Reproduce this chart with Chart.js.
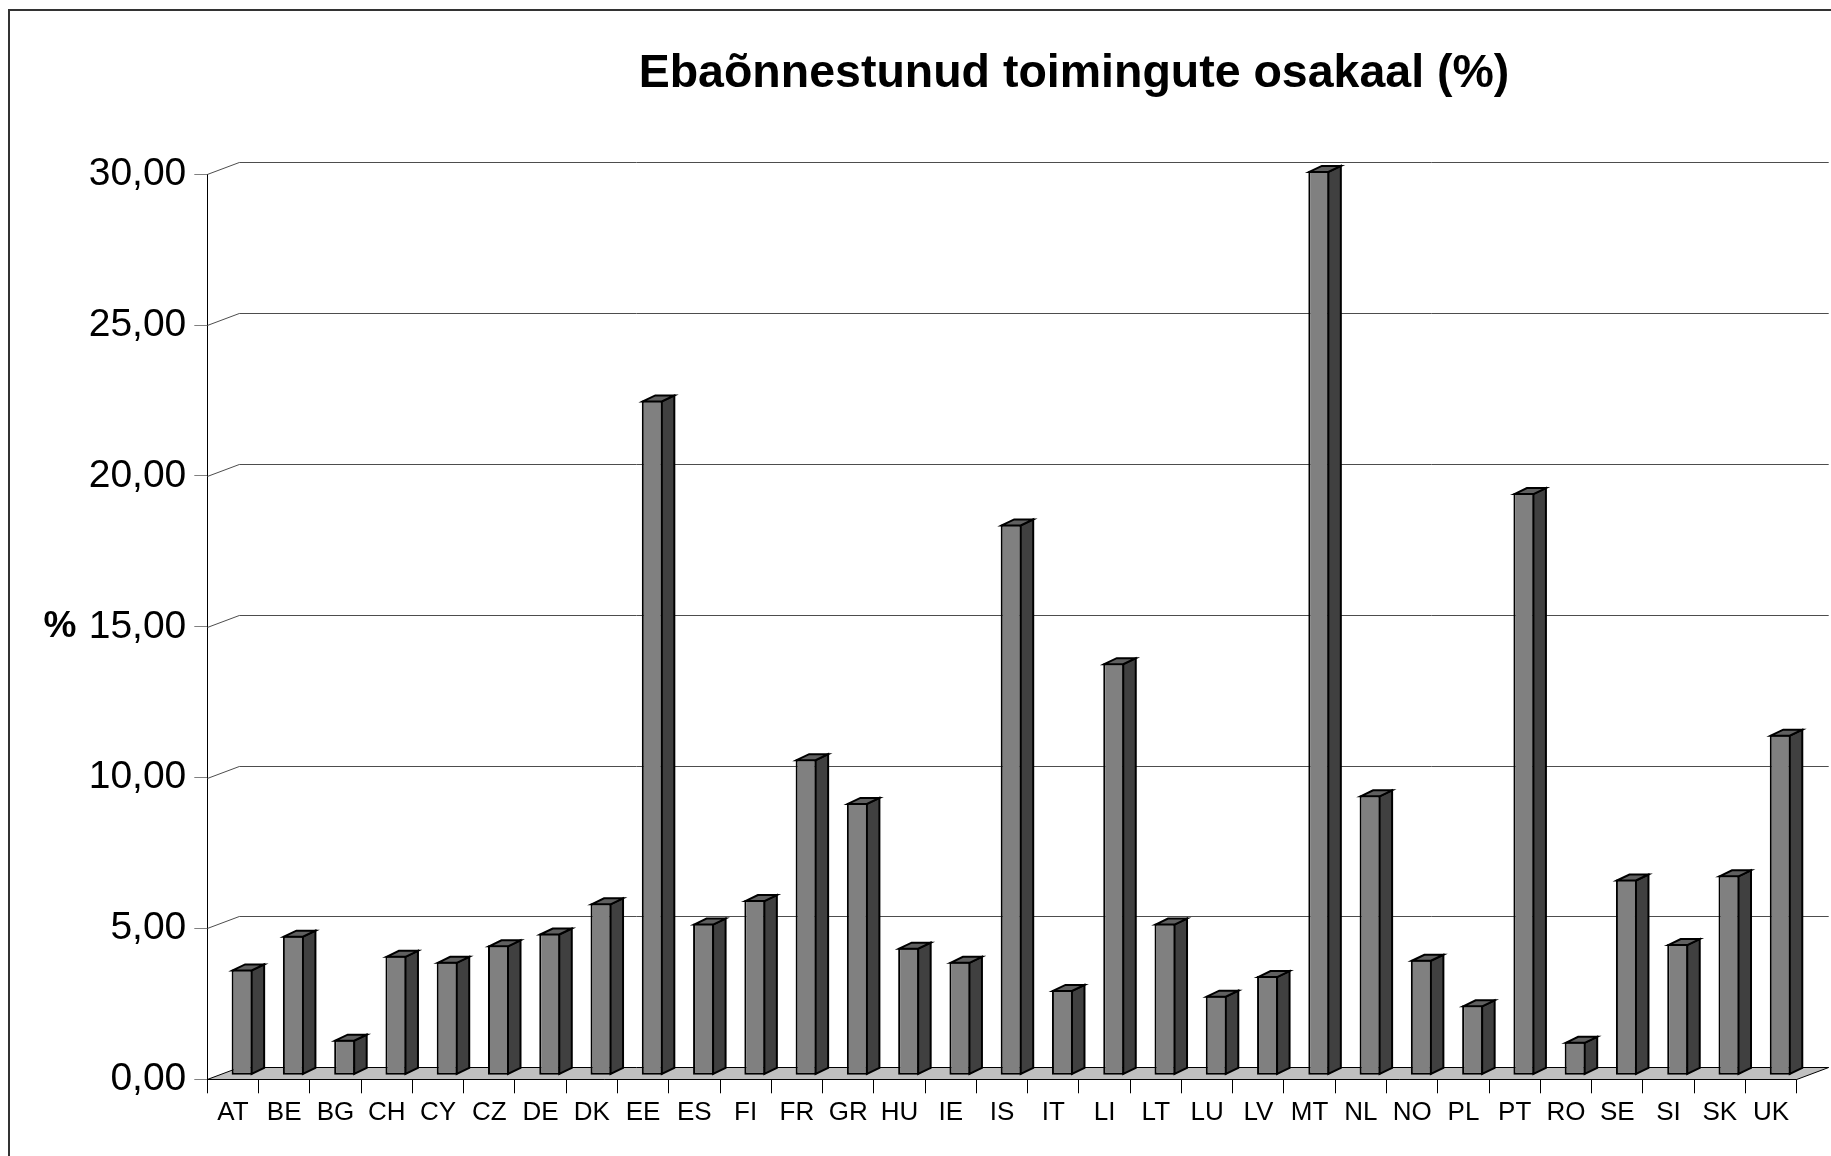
<!DOCTYPE html>
<html>
<head>
<meta charset="utf-8">
<script src="https://cdn.jsdelivr.net/npm/chart.js@4.4.1/dist/chart.umd.min.js"></script>
<style>
  html, body { margin: 0; padding: 0; background: #ffffff; }
  #wrap { width: 1831px; height: 1156px; position: relative; }
</style>
</head>
<body>
<div id="wrap"><canvas id="c" width="1831" height="1156"></canvas></div>
<script>
// ---- data ----
const chartTitle = 'Ebaõnnestunud toimingute osakaal (%)';
const axisTitle = '%';
const categories = ['AT','BE','BG','CH','CY','CZ','DE','DK','EE','ES','FI','FR','GR','HU','IE','IS','IT','LI','LT','LU','LV','MT','NL','NO','PL','PT','RO','SE','SI','SK','UK'];
const values = [3.51, 4.63, 1.18, 3.96, 3.76, 4.31, 4.70, 5.70, 22.37, 5.03, 5.81, 10.48, 9.03, 4.23, 3.76, 18.26, 2.83, 13.66, 5.03, 2.64, 3.29, 29.98, 9.28, 3.83, 2.32, 19.30, 1.11, 6.49, 4.35, 6.63, 11.29];
const yMin = 0;
const yMax = 30;
const yStep = 5;

// ---- styling / 3D geometry ----
const FONT = "'Liberation Sans', Arial, Helvetica, sans-serif";
const geo = { floorDx: 32, floorDy: 12, barDx: 12.5, barDy: 6, shiftX: 9.2, shiftY: -4 };
const colors = { front: '#808080', side: '#404040', top: '#606060', floor: '#c0c0c0', grid: '#4d4d4d' };

const threeD = {
  id: 'threeD',
  beforeDraw(chart) {
    const ctx = chart.ctx;
    ctx.save();
    ctx.fillStyle = '#ffffff';
    ctx.fillRect(0, 0, chart.width, chart.height);
    ctx.strokeStyle = '#333333';
    ctx.lineWidth = 2;
    ctx.strokeRect(9, 10, chart.width + 40, chart.height + 40);
    // title
    ctx.fillStyle = '#000000';
    ctx.font = 'bold 46.5px ' + FONT;
    ctx.textAlign = 'center';
    ctx.textBaseline = 'alphabetic';
    ctx.fillText(chartTitle, 1074, 87);
    // axis title
    const y = chart.scales.y;
    const midY = y.getPixelForValue((yMin + yMax) / 2);
    ctx.font = 'bold 37px ' + FONT;
    ctx.textBaseline = 'middle';
    ctx.fillText(axisTitle, 60, midY);
    ctx.restore();
  },
  beforeDatasetsDraw(chart) {
    const { ctx, chartArea: a, scales: { y } } = chart;
    const fdx = geo.floorDx, fdy = geo.floorDy;
    ctx.save();
    // gridlines on side & back wall
    ctx.strokeStyle = colors.grid;
    ctx.lineWidth = 1;
    y.ticks.forEach(t => {
      if (t.value === yMin) return;
      const py = Math.round(y.getPixelForValue(t.value)) + 0.5;
      ctx.beginPath();
      ctx.moveTo(a.left, py);
      ctx.lineTo(a.left + fdx, py - fdy);
      ctx.lineTo(a.right + fdx, py - fdy);
      ctx.stroke();
    });
    // floor
    const yb = Math.round(y.getPixelForValue(yMin)) + 0.5;
    ctx.fillStyle = colors.floor;
    ctx.strokeStyle = '#000000';
    ctx.beginPath();
    ctx.moveTo(a.left, yb);
    ctx.lineTo(a.right, yb);
    ctx.lineTo(a.right + fdx, yb - fdy);
    ctx.lineTo(a.left + fdx, yb - fdy);
    ctx.closePath();
    ctx.fill();
    ctx.stroke();
    ctx.restore();
    ctx.save();
    ctx.translate(geo.shiftX, geo.shiftY);
  },
  afterDatasetsDraw(chart) {
    const ctx = chart.ctx;
    const meta = chart.getDatasetMeta(0);
    const dx = geo.barDx, dy = geo.barDy;
    ctx.lineWidth = 2;
    ctx.lineJoin = 'miter';
    ctx.strokeStyle = '#000000';
    meta.data.forEach(bar => {
      const p = bar.getProps(['x', 'y', 'base', 'width'], true);
      const l = p.x - p.width / 2 + 1, r = p.x + p.width / 2 - 1;
      const top = p.y + 1, base = p.base - 1;
      // side face
      ctx.fillStyle = colors.side;
      ctx.beginPath();
      ctx.moveTo(r, top);
      ctx.lineTo(r + dx, top - dy);
      ctx.lineTo(r + dx, base - dy);
      ctx.lineTo(r, base);
      ctx.closePath();
      ctx.fill();
      ctx.stroke();
      // top face
      ctx.fillStyle = colors.top;
      ctx.beginPath();
      ctx.moveTo(l, top);
      ctx.lineTo(l + dx, top - dy);
      ctx.lineTo(r + dx, top - dy);
      ctx.lineTo(r, top);
      ctx.closePath();
      ctx.fill();
      ctx.stroke();
    });
    ctx.restore();
  }
};

new Chart(document.getElementById('c'), {
  type: 'bar',
  data: {
    labels: categories,
    datasets: [{
      data: values,
      backgroundColor: colors.front,
      borderColor: '#000000',
      borderWidth: 2,
      borderSkipped: false,
      barPercentage: 0.41,
      categoryPercentage: 1.0
    }]
  },
  options: {
    responsive: false,
    devicePixelRatio: 1,
    animation: false,
    layout: { padding: { left: 0, top: 174.3, right: 34.3, bottom: 0 } },
    plugins: {
      legend: { display: false },
      title: { display: false },
      tooltip: { enabled: false }
    },
    scales: {
      x: {
        type: 'category',
        offset: true,
        grid: { offset: true, drawOnChartArea: false, drawTicks: true, tickLength: 14, color: '#000000', lineWidth: 1 },
        border: { display: true, color: '#000000', width: 1 },
        ticks: { color: '#000000', font: { family: FONT, size: 26 }, padding: 4, maxRotation: 0, autoSkip: false },
        afterFit(scale) { scale.height = 1156 - 1079.3; }
      },
      y: {
        min: yMin,
        max: yMax,
        grid: { drawOnChartArea: false, drawTicks: true, tickLength: 13, color: '#808080', lineWidth: 1 },
        border: { display: true, color: '#000000', width: 1 },
        ticks: {
          stepSize: yStep,
          color: '#000000',
          padding: 8,
          font: { family: FONT, size: 39 },
          callback: v => Number(v).toFixed(2).replace('.', ',')
        },
        afterFit(scale) { scale.width = 207.3; }
      }
    }
  },
  plugins: [threeD]
});
</script>
</body>
</html>
